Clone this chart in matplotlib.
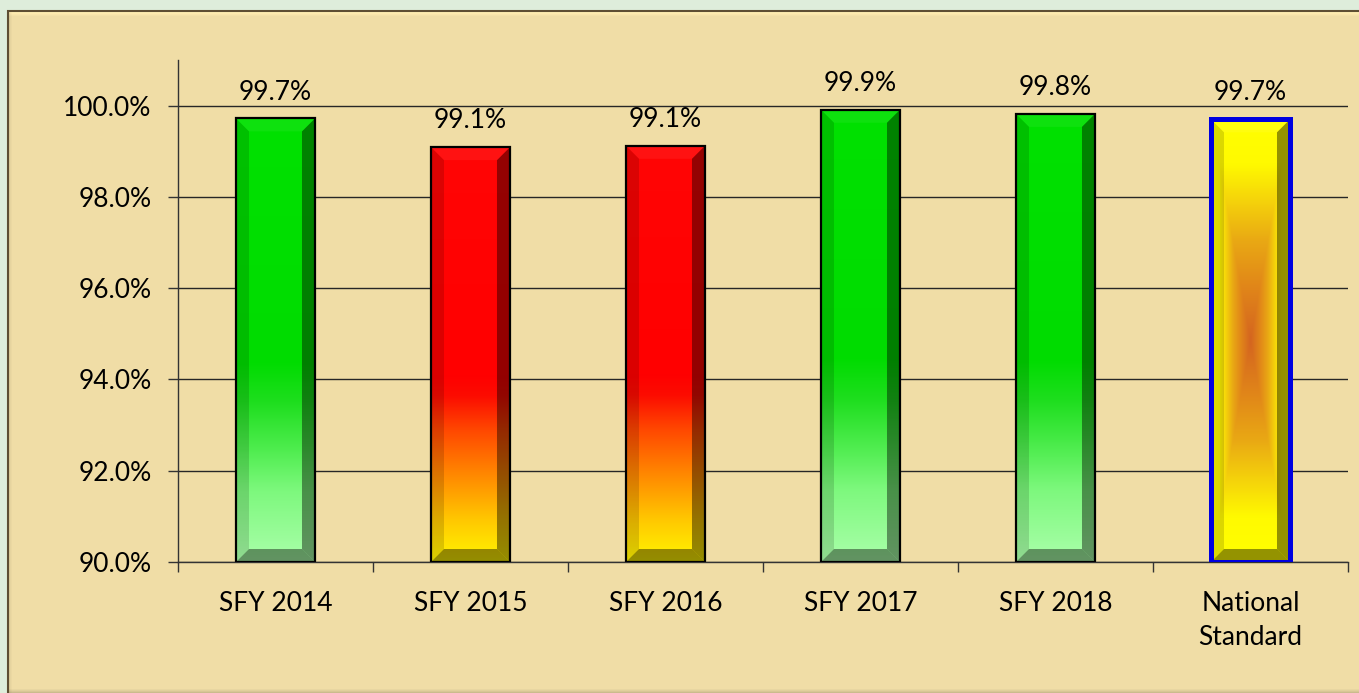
"""
plot.py
-------
bar chart of yearly rates vs the national standard, on a parchment panel
"""

import numpy as np
from matplotlib import pyplot as plt
from matplotlib.patches import Rectangle

# data
categories = ["SFY 2014", "SFY 2015", "SFY 2016", "SFY 2017", "SFY 2018", "National\nStandard"]
rates = [99.72, 99.09, 99.12, 99.91, 99.82, 99.70]
fill_kind = ["green", "red", "red", "green", "green", "standard"]
y_ticks = [90, 92, 94, 96, 98, 100]
y_min, y_max = 90, 101

# colour ramps (0 = bottom of bar, 1 = top)
ramps = {
    "green": [(0.0, (170, 255, 170)), (0.16, (125, 248, 125)), (0.25, (80, 237, 80)),
              (0.36, (30, 222, 30)), (0.45, (0, 220, 0)), (1.0, (0, 225, 0))],
    "red": [(0.0, (255, 245, 0)), (0.1, (255, 200, 0)), (0.22, (255, 130, 0)),
            (0.32, (255, 70, 0)), (0.4, (252, 12, 0)), (0.45, (255, 0, 0)), (1.0, (255, 5, 5))],
}
# rectangular "from centre" ramp for the standard bar (0 = centre, 1 = edge)
standard_ramp = [(0.0, (212, 100, 32)), (0.25, (225, 135, 25)), (0.45, (233, 168, 20)),
                 (0.65, (246, 215, 10)), (0.8, (255, 250, 0)), (1.0, (255, 255, 0))]

W, H = 1359, 693
FS = 19
plt.rcParams['font.family'] = ['Lato', 'DejaVu Sans']


def interp_colours(stops, t):
    pos = [s[0] for s in stops]
    cols = np.array([s[1] for s in stops]) / 255
    return np.stack([np.interp(t, pos, cols[:, k]) for k in range(3)], axis=-1)


fig = plt.figure(figsize=(W / 100, H / 100), dpi=100)
fig.patch.set_facecolor('#deeddb')

# parchment panel, with a soft bevel on its edges (one cell ~ 1 px)
pw, ph = W - 8, H - 11
bg = fig.add_axes([8 / W, 0, pw / W, ph / H], zorder=0)
shade = np.ones((ph, pw))
shade[:5, :] *= np.array([1.09, 1.08, 1.06, 1.04, 1.02])[:, None]
shade[-4:, :] *= np.array([0.97, 0.94, 0.9, 0.85])[:, None]
shade[:, :4] *= np.array([0.88, 0.93, 0.96, 0.98])[None, :]
panel = np.clip(np.array([240, 221, 166]) / 255 * shade[:, :, None], 0, 1)
bg.imshow(panel, aspect='auto', extent=(0, 1, 0, 1), interpolation='nearest')
bg.axis('off')
fig.patches.append(Rectangle((8 / W, -0.01), 1, ph / H + 0.01, transform=fig.transFigure,
                             fill=False, ec='#5e4e33', lw=1.5, zorder=1))

# main axes
ax_l, ax_r, ax_b, ax_t = 178, 1348, 562, 60
ax = fig.add_axes([ax_l / W, (H - ax_b) / H, (ax_r - ax_l) / W, (ax_b - ax_t) / H], zorder=2)
ax.set_facecolor('none')
n = len(categories)
ax.set_xlim(-0.5, n - 0.5)
ax.set_ylim(y_min, y_max)
px_x = (ax_r - ax_l) / n
px_y = (ax_b - ax_t) / (y_max - y_min)

ax.set_yticks(y_ticks)
ax.set_yticklabels([f"{t:.1f}%" for t in y_ticks])
ax.yaxis.grid(True, color='#262626', lw=1.0, zorder=0)
ax.set_axisbelow(True)
ax.set_xticks(range(n))
ax.set_xticklabels(categories, linespacing=1.45)
ax.set_xticks(np.arange(n + 1) - 0.5, minor=True)
ax.tick_params(axis='x', which='major', length=0, pad=21, labelsize=FS)
ax.tick_params(axis='x', which='minor', length=7, width=1, color='#333333')
ax.tick_params(axis='y', length=7, width=1, color='#333333', pad=12, labelsize=FS)
for side in ('top', 'right'):
    ax.spines[side].set_visible(False)
for side in ('left', 'bottom'):
    ax.spines[side].set_color('#333333')
    ax.spines[side].set_linewidth(1.0)

bar_w = 0.405
bx = 13 / px_x
by = 13 / px_y
for i, (v, kind) in enumerate(zip(rates, fill_kind)):
    x0, x1 = i - bar_w / 2, i + bar_w / 2
    y0, y1 = y_min, v
    if kind == "standard":
        ty = np.abs(np.linspace(-1, 1, 300))[:, None]
        tx = np.abs(np.linspace(-1, 1, 60))[None, :]
        img = interp_colours(standard_ramp, np.maximum(tx, ty))
    else:
        img = interp_colours(ramps[kind], np.linspace(0, 1, 300))[:, None, :]
    ax.imshow(img, origin='lower', aspect='auto', extent=(x0, x1, y0, y1),
              interpolation='bilinear', zorder=2)
    # bevel edges
    bevels = [
        ([x0, x0 + bx, x0 + bx, x0], [y0, y0 + by, y1 - by, y1], 'black', 0.14),
        ([x1, x1 - bx, x1 - bx, x1], [y0, y0 + by, y1 - by, y1], 'black', 0.42),
        ([x0, x0 + bx, x1 - bx, x1], [y1, y1 - by, y1 - by, y1], 'white', 0.06),
        ([x0, x0 + bx, x1 - bx, x1], [y0, y0 + by, y0 + by, y0], 'black', 0.42),
    ]
    for xs, ys, c, a in bevels:
        ax.fill(xs, ys, color=c, alpha=a, lw=0, zorder=3)
    if kind == "standard":
        ax.bar(i, v - y_min, bar_w, bottom=y_min, fill=False, ec='#0000e0', lw=3.6, zorder=4)
    else:
        ax.bar(i, v - y_min, bar_w, bottom=y_min, fill=False, ec='black', lw=1.6, zorder=4)
    ax.annotate(f"{v:.1f}%", (i, v), xytext=(0, 10), textcoords='offset points',
                ha='center', va='bottom', fontsize=FS, zorder=5)

fig.savefig('out.png', dpi=100)
